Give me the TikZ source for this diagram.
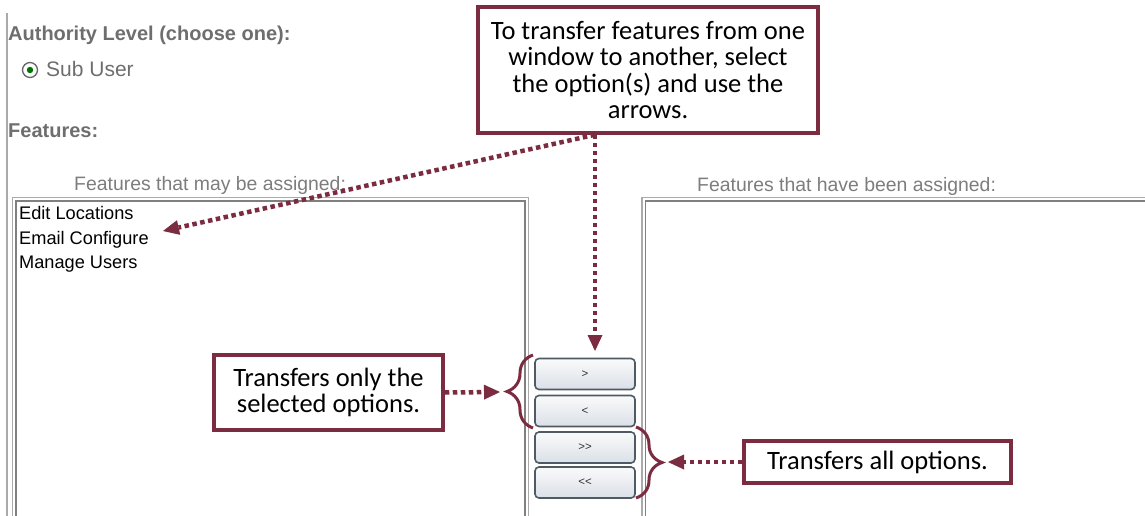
\documentclass[tikz,border=0pt]{standalone}
\usepackage{fontspec}
\setmainfont{Liberation Sans}
\newfontfamily\callfont{Carlito}
\usetikzlibrary{arrows.meta,decorations.pathreplacing}

\definecolor{maroon}{RGB}{124,44,64}
\definecolor{uigrey}{RGB}{110,110,110}
\definecolor{uilight}{RGB}{125,125,125}
\definecolor{frameouter}{RGB}{170,170,170}
\definecolor{frameinner}{RGB}{128,128,128}
\definecolor{btnedge}{RGB}{80,90,100}
\definecolor{btntop}{RGB}{250,250,250}
\definecolor{btnbottom}{RGB}{218,224,232}

\tikzset{
  uilabel/.style={anchor=base west, inner sep=0pt, text=uigrey},
  uihead/.style={uilabel, font=\fontsize{20}{20}\selectfont\bfseries},
  uicaption/.style={uilabel, text=uilight, font=\fontsize{19.4}{20}\selectfont},
  listitem/.style={anchor=base west, inner sep=0pt, text=black, font=\fontsize{18.2}{18}\selectfont},
  callout/.style={draw=maroon, line width=3.5pt, fill=white, align=center, inner sep=0pt,
    font=\callfont\fontsize{26.5}{26.5}\selectfont},
  dotlink/.style={draw=maroon, line width=4.5pt, dash pattern=on 4.5pt off 3.5pt,
    -{Triangle[length=16pt,width=15pt,line width=0pt]}, color=maroon},
  btn/.style={draw=btnedge, line width=1.6pt, rounded corners=4pt,
    top color=btntop, bottom color=btnbottom, minimum width=100pt, minimum height=31pt,
    inner sep=0pt, font=\fontsize{11.5}{11.5}\selectfont, text=black!80},
  bracket/.style={draw=maroon, line width=3pt,
    decorate, decoration={brace, amplitude=26pt, aspect=0.5}},
  listframe/.style={line width=1.5pt}
}

\begin{document}
\begin{tikzpicture}[x=1pt, y=-1pt]
\useasboundingbox[fill=white] (0,0) rectangle (1145,516);

% panel edge
\draw[frameouter, line width=1.5pt] (7,13) -- (7,516);

% form headings
\node[uihead] (authority) at (8,41) {Authority Level (choose one):};
\draw[draw=black!60, line width=1.3pt, fill=white] (30,70) circle (7.5);
\fill[green!45!black] (30,70) circle (3.2);
\node[uilabel, font=\fontsize{21}{21}\selectfont] (subuser) at (46,77) {Sub User};
\node[uihead] (features) at (8,137) {Features:};

% list captions
\node[uicaption] (availcap) at (74,190) {Features that may be assigned:};
\node[uicaption] (assigncap) at (697,191) {Features that have been assigned:};

% left list box
\draw[frameouter, listframe] (12.5,520) |- (528.5,197.5) -- (528.5,520);
\draw[frameinner, listframe] (16,520) |- (525,201) -- (525,520);
\node[listitem] (item1) at (19,219) {Edit Locations};
\node[listitem] (item2) at (19,244) {Email Configure};
\node[listitem] (item3) at (19,268) {Manage Users};

% right list box
\draw[frameouter, listframe] (642,520) |- (1150,197.5);
\draw[frameinner, listframe] (645.5,520) |- (1150,201);

% transfer buttons
\node[btn] (one)    at (585,374) {{>}};
\node[btn] (back)   at (585,411) {{<}};
\node[btn] (all)    at (585,447.5) {{>}{>}};
\node[btn] (allback) at (585,482.5) {{<}{<}};

% braces grouping the buttons
\draw[bracket] (533,428) -- (533,355);
\draw[bracket] (636,427) -- (636,498);

% callouts
\node[callout, minimum width=340pt, minimum height=126pt] (howto) at (648,70)
  {To transfer features from one\\window to another, select\\the option(s) and use the\\arrows.};
\node[callout, minimum width=229pt, minimum height=75pt] (single) at (328.5,392.5)
  {Transfers only the\\selected options.};
\node[callout, minimum width=267pt, minimum height=42pt] (every) at (877.5,462)
  {Transfers all options.};

% connector ends
\coordinate (tipdown) at (595,351);
\coordinate (tiplist) at (163,231);
\coordinate (tipone) at (500,392);
\coordinate (tipall) at (668,462);

\draw[dotlink] (howto.south -| tipdown) -- (tipdown);
\draw[dotlink] (howto.south -| tipdown) -- (tiplist);
\draw[dotlink] (single.east) -- (tipone);
\draw[dotlink] (every.west) -- (tipall);
\end{tikzpicture}
\end{document}
